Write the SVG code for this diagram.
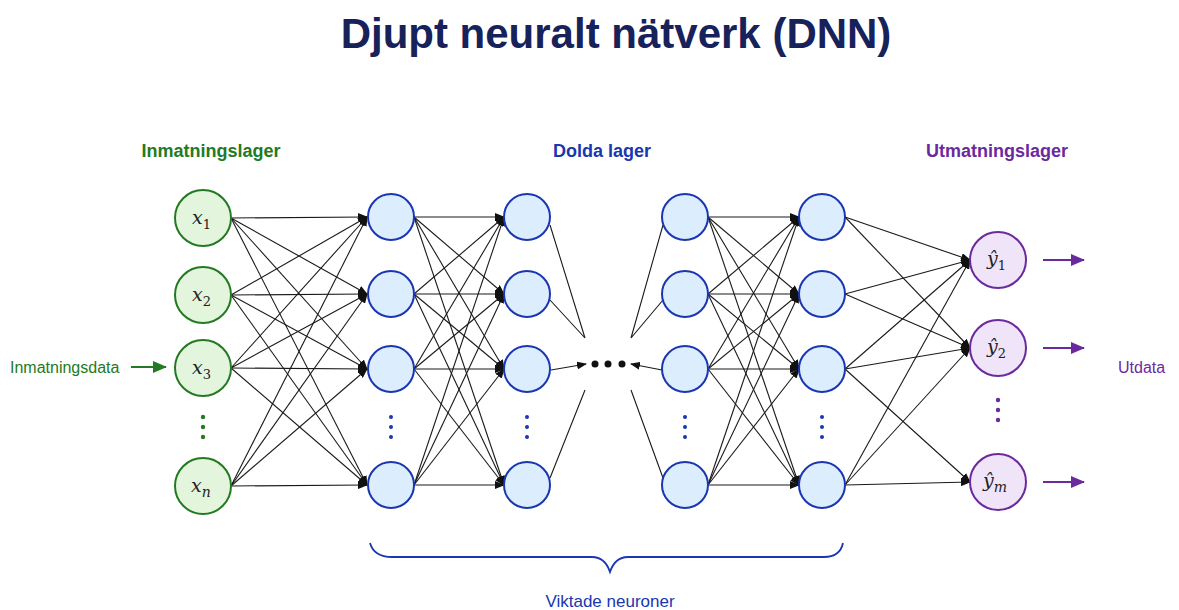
<svg xmlns="http://www.w3.org/2000/svg" width="1179" height="610" viewBox="0 0 1179 610">
<style>
.ttl{font-family:"Liberation Sans",Arial,sans-serif;font-weight:bold;font-size:42px;fill:#17215a}
.hdr{font-family:"Liberation Sans",Arial,sans-serif;font-weight:bold;font-size:18px}
.lbl{font-family:"Liberation Sans",Arial,sans-serif;font-size:16px}
.mth{font-family:"DejaVu Serif","Liberation Serif",serif;font-style:italic;font-size:19px;fill:#222}
.sub{font-size:13px;font-style:normal}
.subi{font-size:14px;font-style:italic}
.in{fill:#e4f5dd;stroke:#237a23;stroke-width:2}
.hid{fill:#dcedfd;stroke:#1a36b0;stroke-width:2}
.out{fill:#efe4f8;stroke:#6a2a9e;stroke-width:2}
.c line{stroke:#1a1a1a;stroke-width:1.1;marker-end:url(#ah)}
.c .p{stroke:#1a1a1a;stroke-width:1.1;fill:none}
</style>
<defs>
<marker id="ah" markerUnits="userSpaceOnUse" markerWidth="10" markerHeight="8" refX="9" refY="4" orient="auto"><path d="M0,0 L10,4 L0,8 Z" fill="#111"/></marker>
<marker id="ag" markerUnits="userSpaceOnUse" markerWidth="14" markerHeight="12" refX="13" refY="6" orient="auto"><path d="M0,0 L14,6 L0,12 Z" fill="#237a23"/></marker>
<marker id="ap" markerUnits="userSpaceOnUse" markerWidth="14" markerHeight="12" refX="13" refY="6" orient="auto"><path d="M0,0 L14,6 L0,12 Z" fill="#6a2a9e"/></marker>
</defs>
<rect width="1179" height="610" fill="#fff"/>
<text class="ttl" x="616" y="48" text-anchor="middle">Djupt neuralt nätverk (DNN)</text>
<text class="hdr" x="211" y="157" text-anchor="middle" fill="#237a23">Inmatningslager</text>
<text class="hdr" x="602" y="157" text-anchor="middle" fill="#1a36b0">Dolda lager</text>
<text class="hdr" x="997" y="157" text-anchor="middle" fill="#6a2a9e">Utmatningslager</text>

<g id="connectors" class="c">
<line x1="231" y1="218" x2="367" y2="217"/><line x1="231" y1="218" x2="367" y2="294"/><line x1="231" y1="218" x2="367" y2="369"/><line x1="231" y1="218" x2="367" y2="485"/>
<line x1="231" y1="295" x2="367" y2="217"/><line x1="231" y1="295" x2="367" y2="294"/><line x1="231" y1="295" x2="367" y2="369"/><line x1="231" y1="295" x2="367" y2="485"/>
<line x1="231" y1="368" x2="367" y2="217"/><line x1="231" y1="368" x2="367" y2="294"/><line x1="231" y1="368" x2="367" y2="369"/><line x1="231" y1="368" x2="367" y2="485"/>
<line x1="231" y1="486" x2="367" y2="217"/><line x1="231" y1="486" x2="367" y2="294"/><line x1="231" y1="486" x2="367" y2="369"/><line x1="231" y1="486" x2="367" y2="485"/>

<line x1="414" y1="217" x2="504" y2="217"/><line x1="414" y1="217" x2="504" y2="294"/><line x1="414" y1="217" x2="504" y2="369"/><line x1="414" y1="217" x2="504" y2="485"/>
<line x1="414" y1="294" x2="504" y2="217"/><line x1="414" y1="294" x2="504" y2="294"/><line x1="414" y1="294" x2="504" y2="369"/><line x1="414" y1="294" x2="504" y2="485"/>
<line x1="414" y1="369" x2="504" y2="217"/><line x1="414" y1="369" x2="504" y2="294"/><line x1="414" y1="369" x2="504" y2="369"/><line x1="414" y1="369" x2="504" y2="485"/>
<line x1="414" y1="485" x2="504" y2="217"/><line x1="414" y1="485" x2="504" y2="294"/><line x1="414" y1="485" x2="504" y2="369"/><line x1="414" y1="485" x2="504" y2="485"/>

<line x1="708" y1="217" x2="799" y2="217"/><line x1="708" y1="217" x2="799" y2="294"/><line x1="708" y1="217" x2="799" y2="369"/><line x1="708" y1="217" x2="799" y2="485"/>
<line x1="708" y1="294" x2="799" y2="217"/><line x1="708" y1="294" x2="799" y2="294"/><line x1="708" y1="294" x2="799" y2="369"/><line x1="708" y1="294" x2="799" y2="485"/>
<line x1="708" y1="369" x2="799" y2="217"/><line x1="708" y1="369" x2="799" y2="294"/><line x1="708" y1="369" x2="799" y2="369"/><line x1="708" y1="369" x2="799" y2="485"/>
<line x1="708" y1="485" x2="799" y2="217"/><line x1="708" y1="485" x2="799" y2="294"/><line x1="708" y1="485" x2="799" y2="369"/><line x1="708" y1="485" x2="799" y2="485"/>

<line x1="845" y1="217" x2="970" y2="260"/><line x1="845" y1="217" x2="970" y2="348"/>
<line x1="845" y1="294" x2="970" y2="260"/><line x1="845" y1="294" x2="970" y2="348"/>
<line x1="845" y1="369" x2="970" y2="260"/><line x1="845" y1="369" x2="970" y2="348"/><line x1="845" y1="369" x2="970" y2="482"/>
<line x1="845" y1="485" x2="970" y2="260"/><line x1="845" y1="485" x2="970" y2="348"/><line x1="845" y1="485" x2="970" y2="482"/>

<line x1="551" y1="370" x2="586" y2="364"/>
<line x1="662" y1="370" x2="631" y2="364"/>
<path class="p" d="M550,225 L585,338 M550,300 L585,338 M550,478 L585,390 M631,338 L663,225 M631,338 L663,300 M631,390 L663,478"/>
</g>

<g id="input-arrow">
<text class="lbl" x="10" y="373" fill="#237a23">Inmatningsdata</text>
<line x1="131" y1="367" x2="166" y2="367" stroke="#237a23" stroke-width="2" marker-end="url(#ag)"/>
</g>

<g id="x1"><circle class="in" cx="203" cy="218" r="28"/><text class="mth" x="192" y="224">x<tspan class="sub" dy="5">1</tspan></text></g>
<g id="x2"><circle class="in" cx="203" cy="295" r="28"/><text class="mth" x="192" y="301">x<tspan class="sub" dy="5">2</tspan></text></g>
<g id="x3"><circle class="in" cx="203" cy="368" r="28"/><text class="mth" x="192" y="374">x<tspan class="sub" dy="5">3</tspan></text></g>
<g id="xdots" fill="#237a23"><circle cx="203" cy="417" r="2.2"/><circle cx="203" cy="427" r="2.2"/><circle cx="203" cy="437" r="2.2"/></g>
<g id="xn"><circle class="in" cx="203" cy="486" r="28"/><text class="mth" x="191" y="492">x<tspan class="subi" dy="5">n</tspan></text></g>

<g id="h1-1"><circle class="hid" cx="391" cy="217" r="23"/></g>
<g id="h1-2"><circle class="hid" cx="391" cy="294" r="23"/></g>
<g id="h1-3"><circle class="hid" cx="391" cy="369" r="23"/></g>
<g id="h1-dots" fill="#1a36b0"><circle cx="391" cy="417" r="2"/><circle cx="391" cy="427" r="2"/><circle cx="391" cy="437" r="2"/></g>
<g id="h1-4"><circle class="hid" cx="391" cy="485" r="23"/></g>

<g id="h2-1"><circle class="hid" cx="527" cy="217" r="23"/></g>
<g id="h2-2"><circle class="hid" cx="527" cy="294" r="23"/></g>
<g id="h2-3"><circle class="hid" cx="527" cy="369" r="23"/></g>
<g id="h2-dots" fill="#1a36b0"><circle cx="527" cy="417" r="2"/><circle cx="527" cy="427" r="2"/><circle cx="527" cy="437" r="2"/></g>
<g id="h2-4"><circle class="hid" cx="527" cy="485" r="23"/></g>

<g id="middots" fill="#111"><circle cx="595" cy="364" r="3.5"/><circle cx="608" cy="364" r="3.5"/><circle cx="622" cy="364" r="3.5"/></g>

<g id="h3-1"><circle class="hid" cx="685" cy="217" r="23"/></g>
<g id="h3-2"><circle class="hid" cx="685" cy="294" r="23"/></g>
<g id="h3-3"><circle class="hid" cx="685" cy="369" r="23"/></g>
<g id="h3-dots" fill="#1a36b0"><circle cx="685" cy="417" r="2"/><circle cx="685" cy="427" r="2"/><circle cx="685" cy="437" r="2"/></g>
<g id="h3-4"><circle class="hid" cx="685" cy="485" r="23"/></g>

<g id="h4-1"><circle class="hid" cx="822" cy="217" r="23"/></g>
<g id="h4-2"><circle class="hid" cx="822" cy="294" r="23"/></g>
<g id="h4-3"><circle class="hid" cx="822" cy="369" r="23"/></g>
<g id="h4-dots" fill="#1a36b0"><circle cx="822" cy="417" r="2"/><circle cx="822" cy="427" r="2"/><circle cx="822" cy="437" r="2"/></g>
<g id="h4-4"><circle class="hid" cx="822" cy="485" r="23"/></g>

<g id="y1"><circle class="out" cx="998" cy="260" r="28"/><text class="mth" x="987" y="265">ŷ<tspan class="sub" dy="5">1</tspan></text></g>
<g id="y2"><circle class="out" cx="998" cy="348" r="28"/><text class="mth" x="987" y="353">ŷ<tspan class="sub" dy="5">2</tspan></text></g>
<g id="ydots" fill="#6a2a9e"><circle cx="998" cy="400" r="2.2"/><circle cx="998" cy="410" r="2.2"/><circle cx="998" cy="420" r="2.2"/></g>
<g id="ym"><circle class="out" cx="998" cy="482" r="28"/><text class="mth" x="983" y="487">ŷ<tspan class="subi" dy="5">m</tspan></text></g>

<g id="output-arrows" stroke="#6a2a9e" stroke-width="2">
<line x1="1043" y1="260" x2="1084" y2="260" marker-end="url(#ap)"/>
<line x1="1043" y1="348" x2="1084" y2="348" marker-end="url(#ap)"/>
<line x1="1043" y1="482" x2="1084" y2="482" marker-end="url(#ap)"/>
</g>
<text class="lbl" x="1118" y="373" fill="#6a2a9e">Utdata</text>

<g id="brace">
<path d="M370,543 Q374,557 392,557 L592,557 Q605,557 610,572 Q615,557 628,557 L824,557 Q840,557 843,543" fill="none" stroke="#1a36b0" stroke-width="1.8"/>
<text class="lbl" x="610" y="607" text-anchor="middle" fill="#1a36b0" style="font-size:17px">Viktade neuroner</text>
</g>
</svg>
